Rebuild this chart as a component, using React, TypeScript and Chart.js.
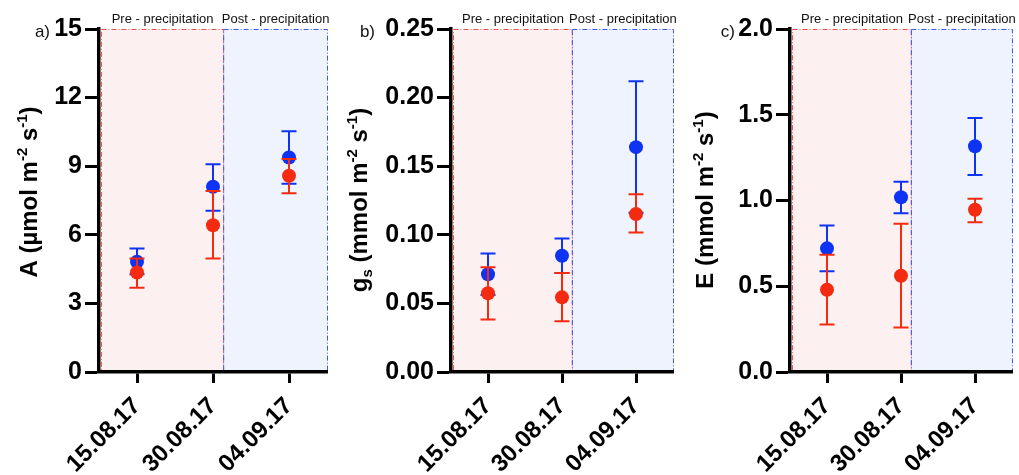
import React, { useEffect, useRef } from 'react';
import { Chart, registerables } from 'chart.js';

Chart.register(...registerables);

// ---------- data ----------
const categories = ['15.08.17', '30.08.17', '04.09.17'];
const periodLabels = ['Pre - precipitation', 'Post - precipitation'];
const panelLetters = ['a)', 'b)', 'c)'];
const periodSplit = 1.14; // category-index position of the pre/post boundary

// a) A (µmol m-2 s-1)
const aBlue = [4.82, 8.1, 9.38];
const aBlueLo = [4.27, 7.05, 8.23];
const aBlueHi = [5.4, 9.09, 10.53];
const aRed = [4.35, 6.42, 8.58];
const aRedLo = [3.68, 4.96, 7.82];
const aRedHi = [4.96, 7.92, 9.31];
const aTicks = [0, 15, 3];

// b) gs (mmol m-2 s-1)
const bBlue = [0.0713, 0.0847, 0.1639];
const bBlueLo = [0.0561, 0.0722, 0.116];
const bBlueHi = [0.0863, 0.0973, 0.212];
const bRed = [0.0574, 0.0544, 0.1152];
const bRedLo = [0.0383, 0.037, 0.1017];
const bRedHi = [0.0764, 0.0722, 0.1295];
const bTicks = [0, 0.25, 0.05];

// c) E (mmol m-2 s-1)
const cBlue = [0.721, 1.019, 1.316];
const cBlueLo = [0.587, 0.926, 1.148];
const cBlueHi = [0.854, 1.11, 1.481];
const cRed = [0.48, 0.561, 0.946];
const cRedLo = [0.277, 0.259, 0.873];
const cRedHi = [0.684, 0.864, 1.01];
const cTicks = [0, 2.0, 0.5];

// ---------- styles ----------
const BLUE = '#0e33f2';
const RED = '#f42b10';
const FONT = '"Liberation Sans", Arial, Helvetica, sans-serif';
const H = 475;
const TOP = 29;
const BOTTOM = 372;

type Seg = { t: string; sup?: boolean; sub?: boolean };

const titleA: Seg[] = [{ t: 'A (µmol m' }, { t: '-2', sup: true }, { t: ' s' }, { t: '-1', sup: true }, { t: ')' }];
const titleB: Seg[] = [{ t: 'g' }, { t: 's', sub: true }, { t: ' (mmol m' }, { t: '-2', sup: true }, { t: ' s' }, { t: '-1', sup: true }, { t: ')' }];
const titleC: Seg[] = [{ t: 'E (mmol m' }, { t: '-2', sup: true }, { t: ' s' }, { t: '-1', sup: true }, { t: ')' }];

interface PanelCfg {
  left: number;
  width: number;
  areaLeft: number;
  areaRight: number;
  ticks: number[];
  decimals: number;
  title: Seg[];
  titleBaseX: number;
  titleCenterY: number;
  letter: string;
  letterRight: number;
  blue: number[];
  blueLo: number[];
  blueHi: number[];
  red: number[];
  redLo: number[];
  redHi: number[];
}

const panels: PanelCfg[] = [
  {
    left: 0, width: 340, areaLeft: 99, areaRight: 327, ticks: aTicks, decimals: 0,
    title: titleA, titleBaseX: 37, titleCenterY: 192, letter: panelLetters[0], letterRight: 50,
    blue: aBlue, blueLo: aBlueLo, blueHi: aBlueHi, red: aRed, redLo: aRedLo, redHi: aRedHi,
  },
  {
    left: 340, width: 340, areaLeft: 111, areaRight: 339, ticks: bTicks, decimals: 2,
    title: titleB, titleBaseX: 27, titleCenterY: 200, letter: panelLetters[1], letterRight: 35,
    blue: bBlue, blueLo: bBlueLo, blueHi: bBlueHi, red: bRed, redLo: bRedLo, redHi: bRedHi,
  },
  {
    left: 680, width: 339, areaLeft: 110, areaRight: 338, ticks: cTicks, decimals: 1,
    title: titleC, titleBaseX: 33, titleCenterY: 200, letter: panelLetters[2], letterRight: 55,
    blue: cBlue, blueLo: cBlueLo, blueHi: cBlueHi, red: cRed, redLo: cRedLo, redHi: cRedHi,
  },
];

function drawRich(ctx: CanvasRenderingContext2D, segs: Seg[], baseX: number, centerY: number, size: number) {
  const main = `bold ${size}px ${FONT}`;
  const small = `bold ${Math.round(size * 0.62)}px ${FONT}`;
  let total = 0;
  for (const s of segs) {
    ctx.font = s.sup || s.sub ? small : main;
    total += ctx.measureText(s.t).width;
  }
  ctx.save();
  ctx.translate(baseX, centerY);
  ctx.rotate(-Math.PI / 2);
  ctx.fillStyle = '#000';
  ctx.textBaseline = 'alphabetic';
  ctx.textAlign = 'left';
  let x = -total / 2;
  for (const s of segs) {
    ctx.font = s.sup || s.sub ? small : main;
    const dy = s.sup ? -size * 0.42 : s.sub ? size * 0.2 : 0;
    ctx.fillText(s.t, x, dy);
    x += ctx.measureText(s.t).width;
  }
  ctx.restore();
}

function makePlugin(cfg: PanelCfg) {
  return {
    id: 'panelDecor',
    beforeDraw(chart: any) {
      const ctx: CanvasRenderingContext2D = chart.ctx;
      const area = chart.chartArea;
      const xs = chart.scales.x;
      const split = xs.getPixelForValue(periodSplit);
      const l = area.left + 2.5;
      const r = area.right + 0.5;
      const t = area.top + 0.5;
      const b = area.bottom - 1;
      ctx.save();
      // regions
      ctx.fillStyle = '#fdf0f0';
      ctx.fillRect(l, t, split - l, b - t);
      ctx.fillStyle = '#eff3fd';
      ctx.fillRect(split, t, r - split, b - t);
      ctx.lineWidth = 1;
      ctx.setLineDash([5, 2, 1, 2]);
      ctx.strokeStyle = '#f05050';
      ctx.strokeRect(l, t, split - l, b - t);
      ctx.strokeStyle = '#3a5cf0';
      ctx.strokeRect(split, t, r - split, b - t);
      ctx.setLineDash([]);
      // period labels
      ctx.fillStyle = '#111';
      ctx.font = `13px ${FONT}`;
      ctx.textAlign = 'center';
      ctx.textBaseline = 'alphabetic';
      ctx.fillText(periodLabels[0], (l + split) / 2, 23);
      ctx.fillText(periodLabels[1], (split + r) / 2, 23);
      // panel letter
      ctx.font = `17px ${FONT}`;
      ctx.textAlign = 'right';
      ctx.fillText(cfg.letter, cfg.letterRight, 37);
      ctx.restore();
      // y title
      drawRich(ctx, cfg.title, cfg.titleBaseX, cfg.titleCenterY, 24);
    },
    beforeDatasetDraw(chart: any, args: any) {
      const ctx: CanvasRenderingContext2D = chart.ctx;
      const ys = chart.scales.y;
      const xs = chart.scales.x;
      const isBlue = args.index === 0;
      const lo = isBlue ? cfg.blueLo : cfg.redLo;
      const hi = isBlue ? cfg.blueHi : cfg.redHi;
      ctx.save();
      ctx.strokeStyle = isBlue ? BLUE : RED;
      ctx.lineWidth = 2;
      for (let i = 0; i < categories.length; i++) {
        const x = xs.getPixelForValue(i);
        const y1 = ys.getPixelForValue(lo[i]);
        const y2 = ys.getPixelForValue(hi[i]);
        ctx.beginPath();
        ctx.moveTo(x, y1);
        ctx.lineTo(x, y2);
        ctx.moveTo(x - 7.5, y1);
        ctx.lineTo(x + 7.5, y1);
        ctx.moveTo(x - 7.5, y2);
        ctx.lineTo(x + 7.5, y2);
        ctx.stroke();
      }
      ctx.restore();
    },
  };
}

function Panel({ cfg }: { cfg: PanelCfg }) {
  const ref = useRef<HTMLCanvasElement | null>(null);
  useEffect(() => {
    if (!ref.current) return;
    const [min, max, step] = cfg.ticks;
    const yFont = { family: FONT, size: 25, weight: 'bold' as const };
    const xFont = { family: FONT, size: 24, weight: 'bold' as const };
    const chart = new Chart(ref.current, {
      type: 'line',
      data: {
        labels: categories,
        datasets: [
          { data: cfg.blue, showLine: false, pointRadius: 7, pointBorderWidth: 0, pointBackgroundColor: BLUE, borderColor: BLUE, backgroundColor: BLUE, order: 2 },
          { data: cfg.red, showLine: false, pointRadius: 7, pointBorderWidth: 0, pointBackgroundColor: RED, borderColor: RED, backgroundColor: RED, order: 1 },
        ],
      },
      options: {
        responsive: false,
        animation: false,
        events: [],
        layout: { padding: { left: 0, top: TOP, right: cfg.width - cfg.areaRight, bottom: 0 } },
        plugins: { legend: { display: false }, tooltip: { enabled: false } },
        scales: {
          x: {
            type: 'category',
            offset: true,
            grid: { display: true, drawOnChartArea: false, offset: false, tickLength: 11, tickWidth: 3, tickColor: '#000' },
            border: { display: true, color: '#000', width: 3.5 },
            ticks: { minRotation: 45, maxRotation: 45, autoSkip: false, color: '#000', font: xFont, padding: 9 },
            afterFit: (s: any) => { s.height = H - BOTTOM; },
          },
          y: {
            min, max,
            grid: { display: true, drawOnChartArea: false, tickLength: 14, tickWidth: 3, tickColor: '#000' },
            border: { display: true, color: '#000', width: 3.5 },
            ticks: { stepSize: step, color: '#000', font: yFont, padding: 3, callback: (v: any) => Number(v).toFixed(cfg.decimals) },
            afterFit: (s: any) => { s.width = cfg.areaLeft; },
          },
        },
      } as any,
      plugins: [makePlugin(cfg)],
    });
    return () => chart.destroy();
  }, [cfg]);
  return (
    <div style={{ position: 'absolute', left: cfg.left, top: 0, width: cfg.width, height: H }}>
      <canvas ref={ref} width={cfg.width} height={H} style={{ display: 'block', width: cfg.width, height: H }} />
    </div>
  );
}

export default function App() {
  return (
    <div style={{ position: 'absolute', left: 0, top: 0, width: 1019, height: H, background: '#fff', overflow: 'hidden' }}>
      {panels.map((p, i) => (
        <Panel key={i} cfg={p} />
      ))}
    </div>
  );
}
